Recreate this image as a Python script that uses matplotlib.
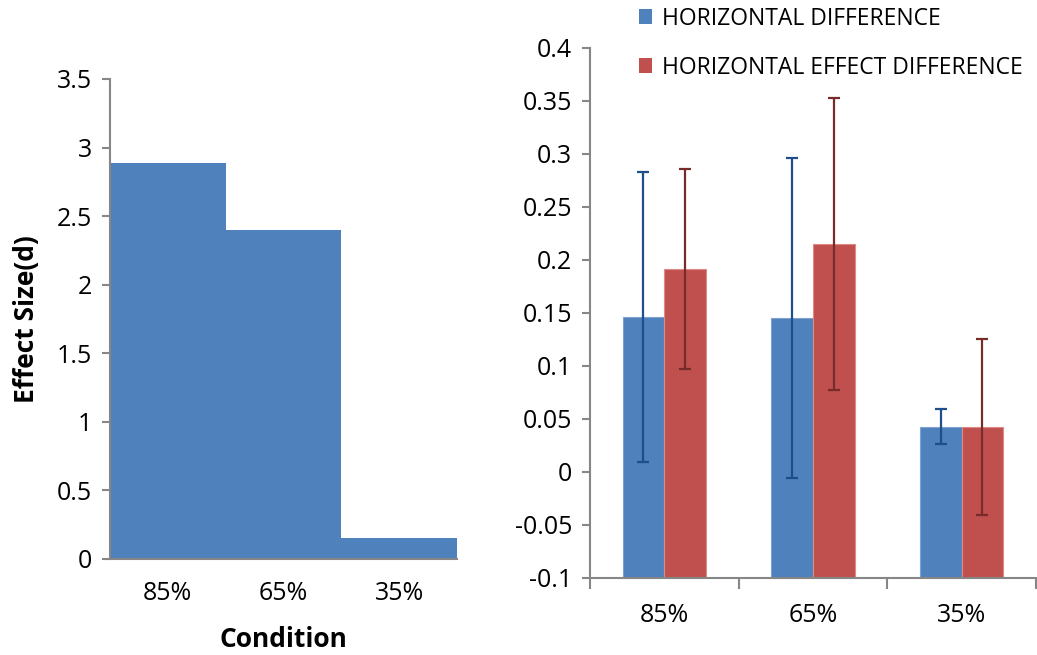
import matplotlib
matplotlib.use("Agg")
import matplotlib.pyplot as plt
import numpy as np
from matplotlib.patches import Patch

plt.rcParams['font.family'] = ['Open Sans', 'DejaVu Sans']

# ---- data ----
conditions = ["85%", "65%", "35%"]
effect_size = [2.89, 2.40, 0.15]

series_names = ["HORIZONTAL DIFFERENCE", "HORIZONTAL EFFECT DIFFERENCE"]
horiz_diff = [0.146, 0.145, 0.0425]
horiz_diff_err = [0.137, 0.151, 0.0165]
horiz_effect_diff = [0.1915, 0.215, 0.0425]
horiz_effect_diff_err = [0.094, 0.138, 0.083]

left_yticks = [0, 0.5, 1, 1.5, 2, 2.5, 3, 3.5]
right_yticks = [-0.1, -0.05, 0, 0.05, 0.1, 0.15, 0.2, 0.25, 0.3, 0.35, 0.4]

# ---- style ----
BLUE = "#4F81BD"
RED = "#C0504D"
BLUE_ERR = "#1F4E8C"
RED_ERR = "#772B2A"
AX_GRAY = "#868686"
FS = 18
BASE = -0.1  # horizontal axis crosses at the axis minimum

fig = plt.figure(figsize=(10.37, 6.55), dpi=100)

# Left panel
axL = fig.add_axes([0.1061, 0.1466, 0.3346, 0.7328])
x = np.arange(len(conditions))
axL.bar(x, effect_size, width=1.0, color=BLUE, edgecolor="none")
axL.set_xlim(-0.5, 2.5)
axL.set_ylim(0, 3.5)
axL.set_yticks(left_yticks)
axL.set_yticklabels([f"{v:g}" for v in left_yticks])
axL.set_xticks(x)
axL.set_xticklabels(conditions)
for s in ["top", "right"]:
    axL.spines[s].set_visible(False)
for s in ["left", "bottom"]:
    axL.spines[s].set_color(AX_GRAY)
    axL.spines[s].set_linewidth(1.5)
axL.tick_params(axis="y", length=6, width=1.5, color=AX_GRAY, labelsize=FS, pad=7)
axL.tick_params(axis="x", length=0, labelsize=FS, pad=16)
axL.set_ylabel("Effect Size(d)", fontsize=19, fontweight="bold", labelpad=12)
axL.set_xlabel("Condition", fontsize=19, fontweight="bold", labelpad=14)

# Right panel
axR = fig.add_axes([0.5689, 0.1176, 0.4301, 0.8092])
w = 0.28
hd = np.array(horiz_diff)
hed = np.array(horiz_effect_diff)
axR.bar(x - w / 2, hd - BASE, bottom=BASE, width=w, color=BLUE, edgecolor="#7FA3D0", linewidth=0.8)
axR.bar(x + w / 2, hed - BASE, bottom=BASE, width=w, color=RED, edgecolor="#E08A88", linewidth=0.8)
axR.errorbar(x - w / 2, hd, yerr=horiz_diff_err, fmt="none", ecolor=BLUE_ERR,
             elinewidth=1.6, capsize=4.5, capthick=1.6)
axR.errorbar(x + w / 2, hed, yerr=horiz_effect_diff_err, fmt="none", ecolor=RED_ERR,
             elinewidth=1.6, capsize=4.5, capthick=1.6)
axR.set_xlim(-0.5, 2.5)
axR.set_ylim(-0.1, 0.4)
axR.set_yticks(right_yticks)
axR.set_yticklabels([f"{v:g}" for v in right_yticks])
axR.set_xticks([-0.5, 0.5, 1.5, 2.5])
axR.set_xticklabels([])
axR.set_xticks(x, minor=True)
axR.set_xticklabels(conditions, minor=True)
for s in ["top", "right"]:
    axR.spines[s].set_visible(False)
for s in ["left", "bottom"]:
    axR.spines[s].set_color(AX_GRAY)
    axR.spines[s].set_linewidth(1.5)
axR.tick_params(axis="y", length=6, width=1.5, color=AX_GRAY, labelsize=FS, pad=7)
axR.tick_params(axis="x", which="major", length=8, width=1.5, color=AX_GRAY)
axR.tick_params(axis="x", which="minor", length=0, labelsize=FS, pad=18)

handles = [Patch(facecolor=BLUE, edgecolor="none"), Patch(facecolor=RED, edgecolor="none")]
fig.legend(handles, series_names, loc="upper left", bbox_to_anchor=(0.607, 1.004),
           frameon=False, fontsize=16.5, handlelength=0.6, handleheight=0.6,
           handletextpad=0.4, labelspacing=1.1, borderaxespad=0)

fig.savefig("out.png", dpi=100)
